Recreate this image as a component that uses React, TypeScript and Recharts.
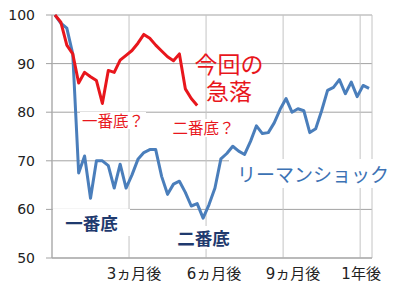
import { LineChart, Line, XAxis, YAxis, CartesianGrid } from 'recharts';

// weekly index, start = 100
const lehmanShock = [
  100, 98.3, 97.3, 92, 67.5, 71, 62.3, 70, 70, 69, 64.4, 69.3, 64.4, 67.1,
  70.3, 71.7, 72.3, 72.3, 66.8, 63.1, 65.2, 65.8, 63.5, 60.7, 61.2, 58.2, 61,
  64.4, 70.4, 71.5, 73, 72, 71.3, 74, 77.2, 75.6, 75.8, 77.8, 80.6, 82.8, 80,
  80.7, 80.3, 75.8, 76.6, 80.3, 84.5, 85.1, 86.7, 83.8, 86.2, 83.2, 85.5, 84.9,
];
const currentDrop = [
  100, 98.5, 93.8, 92, 86, 88.2, 87.3, 86.5, 81.8, 88.6, 88.2, 90.7, 91.7,
  92.7, 94.2, 96, 95.2, 93.8, 92.6, 91.4, 90.6, 92, 84.8, 82.8, 81.4,
];
const yTicks = [50, 60, 70, 80, 90, 100];
const xTickWeeks = [12.5, 25.5, 38.5, 51.5];
const xTickLabels = ['3ヵ月後', '6ヵ月後', '9ヵ月後', '1年後'];
const xLabelShift = [5, 8, 10, 1];

const data = lehmanShock.map((v, i) => ({
  week: i,
  lehman: v,
  current: currentDrop[i],
}));

const RED = '#e8161c';
const BLUE = '#4a7ebb';
const NAVY = '#1f3a6e';
const JP = "'Noto Sans CJK JP', sans-serif";

function XTick(props: any) {
  const { x, y, index } = props;
  return (
    <text
      x={x + xLabelShift[index]}
      y={y}
      dy="0.71em"
      textAnchor="middle"
      fill="#222"
      fontSize={15}
      fontFamily={"'DejaVu Sans', 'Noto Sans CJK JP'"}
    >
      {xTickLabels[index]}
    </text>
  );
}

function Note(props: any) {
  const { left, top, width, height, size, color, weight, bg, padLeft, children } = props;
  return (
    <div
      style={{
        position: 'absolute',
        left,
        top,
        width,
        height,
        background: bg ? '#fff' : 'transparent',
        display: 'flex',
        alignItems: 'center',
        justifyContent: padLeft != null ? 'flex-start' : 'center',
        paddingLeft: padLeft ?? 0,
        boxSizing: 'border-box',
        fontFamily: JP,
        fontSize: size,
        fontWeight: weight ?? 400,
        color,
        whiteSpace: 'nowrap',
        lineHeight: 1,
      }}
    >
      {children}
    </div>
  );
}

export default function App() {
  return (
    <div style={{ position: 'absolute', left: 0, top: 0, width: 400, height: 293, background: '#fff' }}>
      <LineChart width={400} height={293} data={data} margin={{ top: 15, right: 28, bottom: 0, left: 0 }}>
        <CartesianGrid horizontal vertical={false} stroke="#a3a3a3" />
        <CartesianGrid horizontal={false} vertical stroke="#c4c4c4" />
        <XAxis
          dataKey="week"
          type="number"
          domain={[-0.5, 53.5]}
          ticks={xTickWeeks}
          height={35}
          axisLine={{ stroke: '#a3a3a3' }}
          tickLine={false}
          tickMargin={4}
          tick={<XTick />}
        />
        <YAxis
          domain={[50, 100]}
          ticks={yTicks}
          width={52}
          axisLine={{ stroke: '#a3a3a3' }}
          tickLine={{ stroke: '#a3a3a3' }}
          tickSize={6}
          tickMargin={11}
          tick={{ fill: '#222', fontSize: 14, fontFamily: 'DejaVu Sans' }}
        />
        <Line
          dataKey="lehman"
          stroke={BLUE}
          strokeWidth={3}
          strokeLinejoin="round"
          dot={false}
          isAnimationActive={false}
        />
        <Line
          dataKey="current"
          stroke={RED}
          strokeWidth={3}
          strokeLinejoin="round"
          dot={false}
          isAnimationActive={false}
        />
      </LineChart>

      <div
        style={{
          position: 'absolute',
          left: 190,
          top: 49.5,
          width: 78,
          textAlign: 'center',
          fontFamily: JP,
          fontSize: 23,
          lineHeight: '27px',
          color: RED,
        }}
      >
        今回の<br />急落
      </div>
      <Note left={80} top={112} width={66} height={17} size={15.5} color={RED} bg>一番底？</Note>
      <Note left={169} top={119} width={69} height={18} size={15.5} color={RED} bg>二番底？</Note>
      <Note left={53} top={209} width={77} height={27} size={17.5} color={NAVY} weight={700} bg>一番底</Note>
      <Note left={170} top={226} width={67} height={23} size={17.5} color={NAVY} weight={700} bg>二番底</Note>
      <Note left={229} top={159} width={171} height={29} size={19} color="#3c72b4" padLeft={8} bg>リーマンショック</Note>
    </div>
  );
}
